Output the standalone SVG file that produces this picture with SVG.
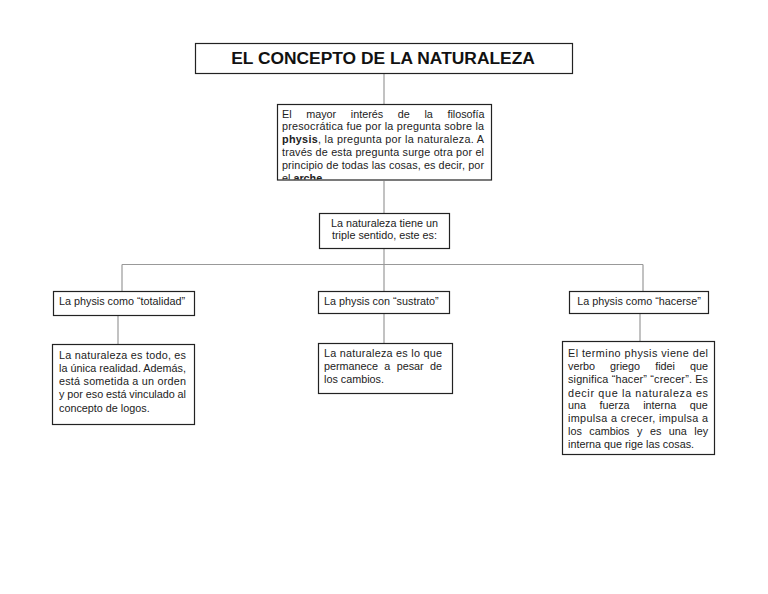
<svg xmlns="http://www.w3.org/2000/svg" width="768" height="594" viewBox="0 0 768 594">
<style>
.box{fill:#fff;stroke:#222;stroke-width:1.2}
.con{stroke:#999;stroke-width:1.2;fill:none}
text{font-family:"Liberation Sans",Arial,sans-serif;font-size:10.8px;fill:#222}
.t{font-size:17.4px;font-weight:bold;fill:#111}
.c{text-anchor:middle}
.b{font-weight:bold}
</style>
<defs>
<clipPath id="clip2"><rect x="278" y="105" width="213" height="74.5"/></clipPath>
</defs>
<rect width="768" height="594" fill="#fff"/>
<g id="connectors">
<line class="con" x1="384" y1="74" x2="384" y2="104"/>
<line class="con" x1="384" y1="181" x2="384" y2="213"/>
<line class="con" x1="384" y1="248" x2="384" y2="291"/>
<line class="con" x1="122" y1="264.5" x2="643" y2="264.5"/>
<line class="con" x1="122" y1="264.5" x2="122" y2="291"/>
<line class="con" x1="643" y1="264.5" x2="643" y2="291"/>
<line class="con" x1="118" y1="315" x2="118" y2="344"/>
<line class="con" x1="384" y1="313" x2="384" y2="343"/>
<line class="con" x1="640" y1="313" x2="640" y2="341"/>
</g>
<g id="title">
<rect class="box" x="195.5" y="43.5" width="377" height="30"/>
<text class="t c" x="383" y="64">EL CONCEPTO DE LA NATURALEZA</text>
</g>
<g id="intro">
<rect class="box" x="277.5" y="104.5" width="214" height="75.5"/>
<g clip-path="url(#clip2)">
<text x="282" y="117.5">El</text>
<text x="306.2" y="117.5">mayor</text>
<text x="350.8" y="117.5">interés</text>
<text x="397.8" y="117.5">de</text>
<text x="424.4" y="117.5">la</text>
<text x="447.4" y="117.5">filosofía</text>
<text x="282" y="130.3" textLength="202" lengthAdjust="spacing">presocrática fue por la pregunta sobre la</text>
<text x="282" y="143" textLength="202" lengthAdjust="spacing"><tspan class="b">physis</tspan>, la pregunta por la naturaleza. A</text>
<text x="282" y="155.8" textLength="202" lengthAdjust="spacing">través de esta pregunta surge otra por el</text>
<text x="282" y="168.5" textLength="202" lengthAdjust="spacing">principio de todas las cosas, es decir, por</text>
<text x="282" y="181.5">el <tspan class="b">arche</tspan>.</text>
</g>
</g>
<g id="triple">
<rect class="box" x="319.5" y="213.5" width="130" height="35"/>
<text class="c" x="384.5" y="226.5">La naturaleza tiene un</text>
<text class="c" x="384.5" y="238.5">triple sentido, este es:</text>
</g>
<g id="totalidad">
<rect class="box" x="53.5" y="291.5" width="141" height="24"/>
<text x="59" y="305">La physis como “totalidad”</text>
</g>
<g id="sustrato">
<rect class="box" x="318.5" y="291.5" width="131" height="22"/>
<text x="324" y="305">La physis con “sustrato”</text>
</g>
<g id="hacerse">
<rect class="box" x="569.5" y="291.5" width="139" height="22"/>
<text class="c" x="639" y="305">La physis como “hacerse”</text>
</g>
<g id="totalidad-desc">
<rect class="box" x="52.5" y="344.5" width="142" height="80"/>
<text x="59" y="358.5" textLength="127" lengthAdjust="spacing">La naturaleza es todo, es</text>
<text x="59" y="371.5" textLength="127" lengthAdjust="spacing">la única realidad. Además,</text>
<text x="59" y="385" textLength="127" lengthAdjust="spacing">está sometida a un orden</text>
<text x="59" y="398" textLength="127" lengthAdjust="spacing">y por eso está vinculado al</text>
<text x="59" y="411.5">concepto de logos.</text>
</g>
<g id="sustrato-desc">
<rect class="box" x="318.5" y="343.5" width="134" height="50"/>
<text x="324" y="356.5" textLength="118" lengthAdjust="spacing">La naturaleza es lo que</text>
<text x="324" y="370">permanece</text>
<text x="384.3" y="370">a</text>
<text x="396.7" y="370">pesar</text>
<text x="430" y="370">de</text>
<text x="324" y="383">los cambios.</text>
</g>
<g id="hacerse-desc">
<rect class="box" x="562.5" y="341.5" width="152" height="113"/>
<text x="568" y="356.5" textLength="140" lengthAdjust="spacing">El termino physis viene del</text>
<text x="568" y="369.5">verbo</text>
<text x="610.1" y="369.5">griego</text>
<text x="655.2" y="369.5">fidei</text>
<text x="690.1" y="369.5">que</text>
<text x="568" y="383" textLength="140" lengthAdjust="spacing">significa “hacer” “crecer”. Es</text>
<text x="568" y="396.5" textLength="140" lengthAdjust="spacing">decir que la naturaleza es</text>
<text x="568" y="409">una</text>
<text x="599.6" y="409">fuerza</text>
<text x="643.2" y="409">interna</text>
<text x="689.8" y="409">que</text>
<text x="568" y="422" textLength="140" lengthAdjust="spacing">impulsa a crecer, impulsa a</text>
<text x="568" y="435">los</text>
<text x="589.3" y="435">cambios</text>
<text x="637" y="435">y</text>
<text x="649.9" y="435">es</text>
<text x="668.8" y="435">una</text>
<text x="694.3" y="435">ley</text>
<text x="568" y="448">interna que rige las cosas.</text>
</g>
</svg>
